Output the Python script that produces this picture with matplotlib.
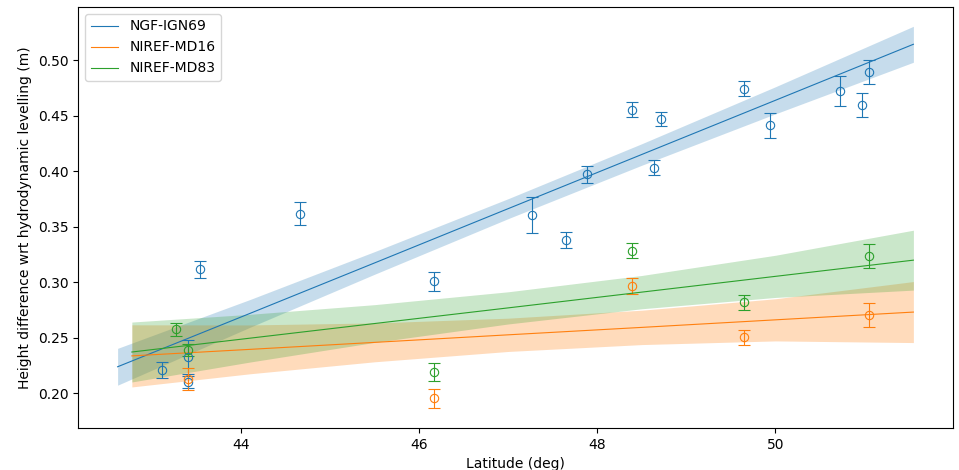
import matplotlib
matplotlib.use("Agg")
import matplotlib.pyplot as plt
import numpy as np

# Station observations: latitude (deg), height difference (m), 1-sigma uncertainty (m)
ign69_lat = [43.11, 43.40, 43.40, 43.53, 44.66, 46.16, 47.27, 47.65, 47.88,
             48.39, 48.64, 48.72, 49.65, 49.94, 50.73, 50.97, 51.05]
ign69_dh = [0.2207, 0.2325, 0.2100, 0.3114, 0.3615, 0.3006, 0.3604, 0.3380, 0.3973,
            0.4556, 0.4030, 0.4468, 0.4745, 0.4414, 0.4724, 0.4597, 0.4892]
ign69_err = [0.0072, 0.0155, 0.0055, 0.0074, 0.0104, 0.0083, 0.0165, 0.0068, 0.0078,
             0.0066, 0.0068, 0.0065, 0.0066, 0.0114, 0.0133, 0.0105, 0.0110]

md16_lat = [43.40, 46.16, 48.39, 49.65, 51.05]
md16_dh = [0.2128, 0.1952, 0.2964, 0.2502, 0.2703]
md16_err = [0.0097, 0.0085, 0.0069, 0.0066, 0.0111]

md83_lat = [43.27, 43.40, 46.16, 48.39, 49.65, 51.05]
md83_dh = [0.2574, 0.2385, 0.2189, 0.3282, 0.2817, 0.3237]
md83_err = [0.0058, 0.0055, 0.0084, 0.0068, 0.0066, 0.0111]

# Linear trend and its confidence band, sampled along latitude
ign69_fit_lat = [42.61, 44.1, 45.5, 47.0, 48.5, 50.0, 51.55]
ign69_fit = [0.2237, 0.2719, 0.3174, 0.3663, 0.4151, 0.4639, 0.5144]
ign69_band = [0.0166, 0.0125, 0.0102, 0.0090, 0.0097, 0.0122, 0.0162]

md_fit_lat = [42.77, 44.1, 45.5, 47.0, 48.5, 50.0, 51.55]
md16_fit = [0.2335, 0.2394, 0.2457, 0.2525, 0.2592, 0.2660, 0.2730]
md16_band = [0.0280, 0.0220, 0.0175, 0.0150, 0.0155, 0.0190, 0.0275]
md83_fit = [0.2370, 0.2495, 0.2627, 0.2768, 0.2910, 0.3052, 0.3198]
md83_band = [0.0270, 0.0215, 0.0170, 0.0145, 0.0150, 0.0190, 0.0270]

series = [
    ("NGF-IGN69", "#1f77b4", ign69_lat, ign69_dh, ign69_err, ign69_fit_lat, ign69_fit, ign69_band, 0.25),
    ("NIREF-MD16", "#ff7f0e", md16_lat, md16_dh, md16_err, md_fit_lat, md16_fit, md16_band, 0.28),
    ("NIREF-MD83", "#2ca02c", md83_lat, md83_dh, md83_err, md_fit_lat, md83_fit, md83_band, 0.25),
]

fig = plt.figure(figsize=(9.59, 4.70), dpi=100)
ax = fig.add_axes([78 / 959, 42 / 470, 875 / 959, 421 / 470])

for name, col, lat, dh, err, flat, fit, band, alpha in series:
    ax.errorbar(lat, dh, yerr=err, fmt="o", mfc="none", mec=col, mew=0.8,
                ms=6, ecolor=col, elinewidth=0.8, capsize=4, capthick=1.5)
    ax.plot(flat, fit, color=col, lw=0.8, label=name)
    fit_a = np.asarray(fit)
    band_a = np.asarray(band)
    ax.fill_between(flat, fit_a - band_a, fit_a + band_a, color=col, alpha=alpha, lw=0)

ax.set_xlim(42.165, 51.995)
ax.set_ylim(0.1685, 0.548)
ax.set_xticks([44, 46, 48, 50])
ax.set_yticks([0.20, 0.25, 0.30, 0.35, 0.40, 0.45, 0.50])
ax.set_xlabel("Latitude (deg)", fontsize=10)
ax.set_ylabel("Height difference wrt hydrodynamic levelling (m)", fontsize=10)
ax.tick_params(labelsize=10)
ax.legend(loc="upper left", fontsize=10)

fig.savefig("out.png", dpi=100)
